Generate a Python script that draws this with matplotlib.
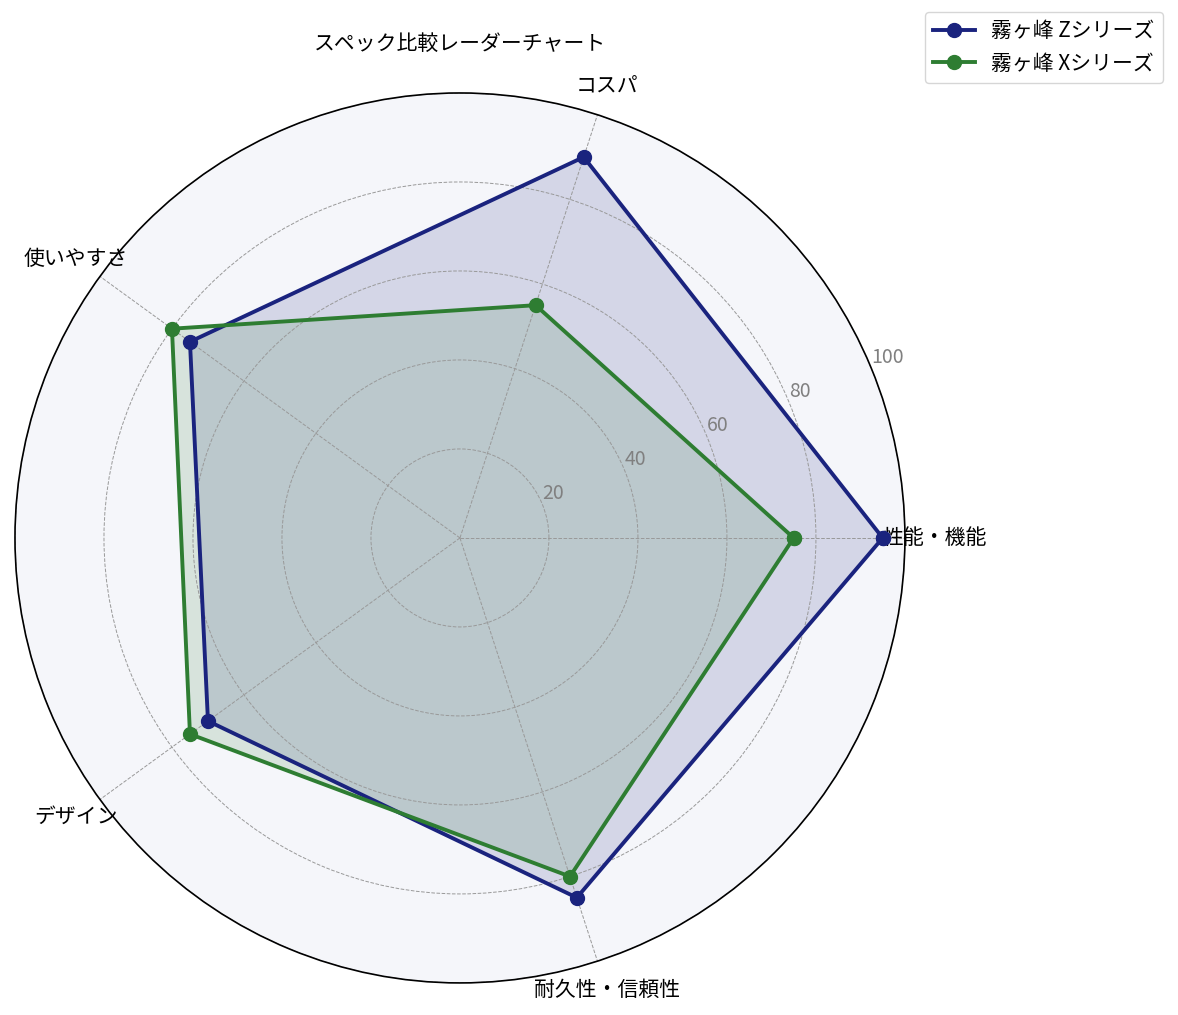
import numpy as np
import matplotlib
matplotlib.use("Agg")
import matplotlib.pyplot as plt

plt.rcParams['font.family'] = ['Noto Sans CJK JP', 'DejaVu Sans']

# Data
categories = ["性能・機能", "コスパ", "使いやすさ", "デザイン", "耐久性・信頼性"]
series_names = ["霧ヶ峰 Zシリーズ", "霧ヶ峰 Xシリーズ"]
z_values = [95, 90, 75, 70, 85]
x_values = [75, 55, 80, 75, 80]
r_ticks = [20, 40, 60, 80, 100]
colors = ["#1a237e", "#2e7d32"]

n = len(categories)
angles = np.linspace(0, 2 * np.pi, n, endpoint=False).tolist()
angles_closed = angles + angles[:1]

fig = plt.figure(figsize=(11.78, 10.15), dpi=100)
ax = fig.add_axes([0.0127, 0.0316, 0.7555, 0.8768], projection="polar")
ax.set_facecolor("#f5f6fa")

for name, vals, col in zip(series_names, [z_values, x_values], colors):
    v = vals + vals[:1]
    ax.plot(angles_closed, v, color=col, linewidth=2.8, marker="o",
            markersize=10, label=name)
    ax.fill(angles_closed, v, color=col, alpha=0.15)

ax.set_ylim(0, 100)
ax.set_xticks(angles)
ax.set_xticklabels(categories, fontsize=15)
ax.tick_params(axis="x", pad=11)
ax.set_yticks(r_ticks)
ax.set_yticklabels([str(t) for t in r_ticks], color="#808080", fontsize=14)
ax.set_rlabel_position(22.5)
ax.grid(color="#999999", linestyle="--", linewidth=0.7)
ax.spines["polar"].set_linewidth(1.2)

fig.text(460 / 1178, 1 - 44 / 1015, "スペック比較レーダーチャート",
         ha="center", va="center", fontsize=15)

fig.legend(loc="upper right", bbox_to_anchor=(1163 / 1178, 1 - 12 / 1015),
           fontsize=15, borderaxespad=0, handlelength=2)

fig.savefig("out.png", dpi=100)
